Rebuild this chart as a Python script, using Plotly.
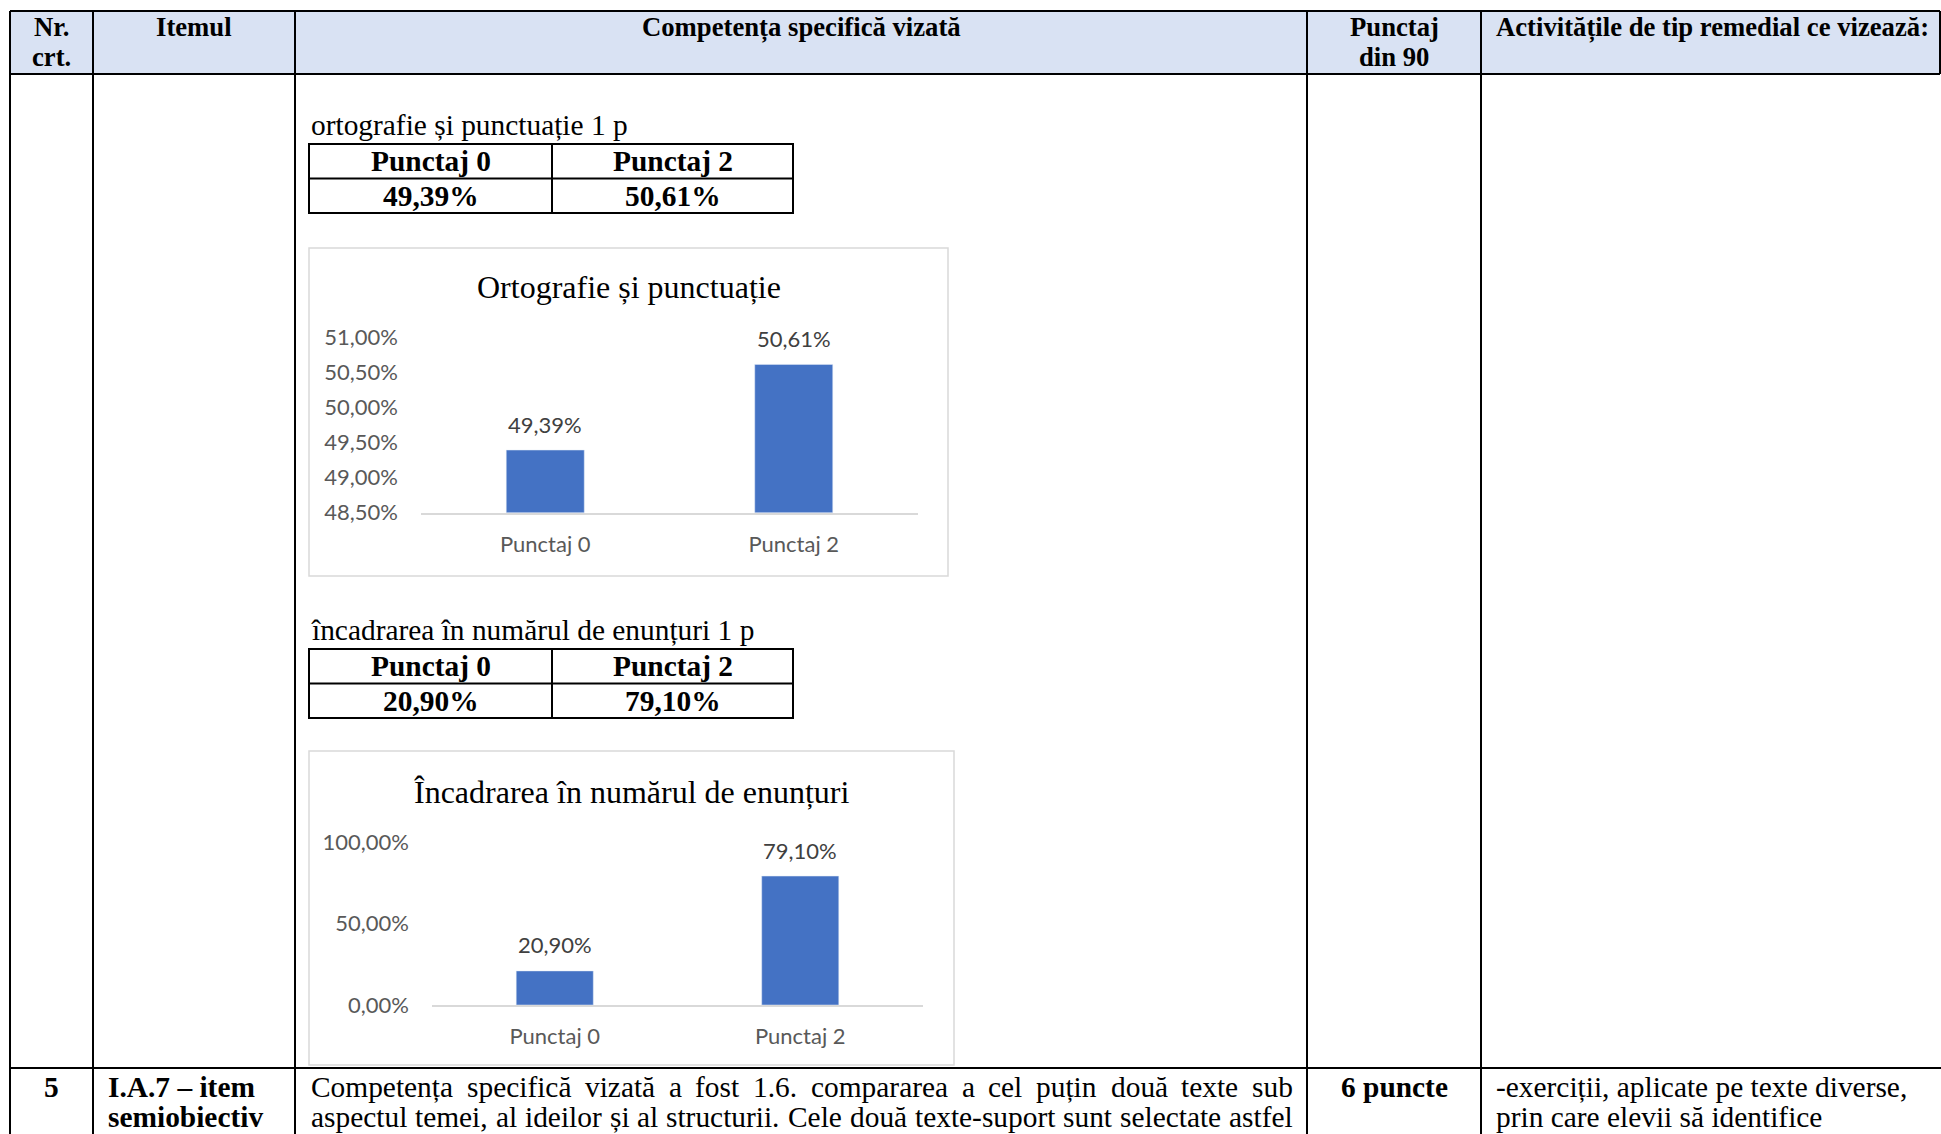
import plotly.graph_objects as go

# ==========================================================
# DATA
# ==========================================================
W, H = 1941, 1134

categories = ["Punctaj 0", "Punctaj 2"]
ortografie_vals = [49.39, 50.61]
incadrare_vals = [20.90, 79.10]

ortografie_ticks = [48.5, 49.0, 49.5, 50.0, 50.5, 51.0]
incadrare_ticks = [0, 50, 100]

header_cols = ["Nr.<br>crt.", "Itemul", "Competența specifică vizată", "Punctaj<br>din 90",
               "Activitățile de tip remedial ce vizează:"]

caption_1 = "ortografie și punctuație 1 p"
caption_2 = "încadrarea în numărul de enunțuri 1 p"
title_1 = "Ortografie și punctuație"
title_2 = "Încadrarea în numărul de enunțuri"

row5_nr = "5"
row5_item = ["I.A.7 – item", "semiobiectiv"]
row5_comp = ["Competența specifică vizată a fost 1.6. compararea a cel puțin două texte sub",
             "aspectul temei, al ideilor și al structurii. Cele două texte-suport sunt selectate astfel"]
row5_punctaj = "6 puncte"
row5_activ = ["-exerciții, aplicate pe texte diverse,", "prin care elevii să identifice"]

SERIF = "Liberation Serif"
SANS = "Lato"
BLUE = "#4472C4"
HEAD = 26.7
BODY = 29.4

# Times / Liberation Serif advance widths (per 1000 em), used to justify a line
TIMES_W = {" ": 250, "a": 444, "b": 500, "c": 444, "d": 500, "e": 444, "f": 333, "g": 500,
           "h": 500, "i": 278, "j": 278, "k": 500, "l": 278, "m": 778, "n": 500, "o": 500,
           "p": 500, "q": 500, "r": 333, "s": 389, "t": 278, "u": 500, "v": 500, "w": 722,
           "x": 500, "y": 500, "z": 444, "C": 667, ".": 250, ",": 250, "-": 333,
           "ă": 444, "ț": 278, "ș": 389, "î": 278, "â": 444}


def X(px):
    return px / W


def Y(py):
    return 1 - py / H


def pct(v):
    return f"{v:.2f}".replace(".", ",") + "%"


def word_w(word, size):
    return sum(TIMES_W.get(ch, 500) for ch in word) * size / 1000


fig = go.Figure()
shapes = []
ann = []


def line(x0, y0, x1, y1, color="black", width=2):
    shapes.append(dict(type="line", xref="paper", yref="paper",
                       x0=X(x0), y0=Y(y0), x1=X(x1), y1=Y(y1),
                       line=dict(color=color, width=width)))


def rect(x0, y0, x1, y1, color="black", width=2, fill=None):
    shapes.append(dict(type="rect", xref="paper", yref="paper",
                       x0=X(x0), y0=Y(y0), x1=X(x1), y1=Y(y1),
                       line=dict(color=color, width=width if color else 0),
                       fillcolor=fill, layer="below"))


def text(t, x, y, size=BODY, bold=False, anchor="center", font=SERIF, color="black"):
    if bold:
        t = f"<b>{t}</b>"
    ann.append(dict(text=t, x=X(x), y=Y(y), xref="paper", yref="paper",
                    xanchor=anchor, yanchor="middle", showarrow=False,
                    font=dict(family=font, size=size, color=color)))


def justified(t, x0, x1, y, size=BODY):
    words = t.split(" ")
    widths = [word_w(w, size) for w in words]
    gap = (x1 - x0 - sum(widths)) / (len(words) - 1)
    cx = x0
    for w, ww in zip(words, widths):
        text(w, cx, y, size, anchor="left")
        cx += ww + gap


# ==========================================================
# MAIN TABLE
# ==========================================================
col_x = [10, 93, 295, 1307, 1481]
rect(10, 11, 1940, 74, color=None, fill="#D9E2F3")
line(10, 11, 1940, 11)
line(10, 74, 1940, 74)
line(10, 1068, 1941, 1068)
for cx in col_x:
    line(cx, 11, cx, 1134)
line(1940, 11, 1940, 74)

# header
text("Nr.", 51.5, 27, HEAD, True)
text("crt.", 51.5, 57, HEAD, True)
text(header_cols[1], 194, 27, HEAD, True)
text(header_cols[2], 801, 27, HEAD, True)
text("Punctaj", 1394, 27, HEAD, True)
text("din 90", 1394, 57, HEAD, True)
text(header_cols[4], 1494, 27, HEAD, True, anchor="left")

# row 5 (second line sits on the bottom edge, as in the page)
text(row5_nr, 51.5, 1087, BODY, True)
text(row5_item[0], 106, 1087, BODY, True, anchor="left")
text(row5_item[1], 106, 1117, BODY, True, anchor="left")
justified(row5_comp[0], 309, 1291, 1087)
justified(row5_comp[1], 309, 1291, 1117)
text(row5_punctaj, 1394, 1087, BODY, True)
text(row5_activ[0], 1494, 1087, BODY, anchor="left")
text(row5_activ[1], 1494, 1117, BODY, anchor="left")


# ==========================================================
# SMALL TABLES
# ==========================================================
def small_table(top, caption, vals):
    text(caption, 309, top - 19, BODY, anchor="left")
    rect(309, top, 793, top + 69)
    line(309, top + 34.5, 793, top + 34.5)
    line(552, top, 552, top + 69)
    for i, cx in enumerate([430.5, 672.5]):
        text(categories[i], cx, top + 17, BODY, True)
        text(pct(vals[i]), cx, top + 52, BODY, True)


small_table(144, caption_1, ortografie_vals)
small_table(649, caption_2, incadrare_vals)

# ==========================================================
# CHARTS
# ==========================================================
rect(309, 248, 948, 576, color="#D9D9D9", width=1.5)
rect(309, 751, 954, 1065, color="#D9D9D9", width=1.5)
text(title_1, 629, 287, 32)
text(title_2, 631, 792, 32)

fig.add_trace(go.Bar(x=categories, y=ortografie_vals, marker_color=BLUE,
                     xaxis="x", yaxis="y", hoverinfo="skip"))
fig.add_trace(go.Bar(x=categories, y=incadrare_vals, marker_color=BLUE,
                     xaxis="x2", yaxis="y2", hoverinfo="skip"))

for xr, yr, vals in [("x", "y", ortografie_vals), ("x2", "y2", incadrare_vals)]:
    for c, v in zip(categories, vals):
        ann.append(dict(text=pct(v), x=c, y=v, xref=xr, yref=yr, yshift=26,
                        xanchor="center", yanchor="middle", showarrow=False,
                        font=dict(family=SANS, size=22, color="#404040")))

xax = dict(type="category", showline=True, linecolor="#D9D9D9", linewidth=1.5,
           showgrid=False, zeroline=False, ticks="", ticklabelstandoff=11,
           automargin=False,
           tickfont=dict(family=SANS, size=22, color="#595959"), fixedrange=True)
yax = dict(showgrid=False, zeroline=False, showline=False, ticks="",
           ticklabelstandoff=22, automargin=False,
           tickfont=dict(family=SANS, size=22, color="#595959"), fixedrange=True)

fig.update_layout(
    width=W, height=H,
    margin=dict(l=0, r=0, t=0, b=0, pad=0),
    paper_bgcolor="white", plot_bgcolor="rgba(0,0,0,0)",
    showlegend=False, separators=",.",
    bargap=0.686,
    xaxis=dict(xax, domain=[X(421), X(918)], anchor="y"),
    yaxis=dict(yax, domain=[Y(512.5), Y(337)], range=[48.5, 51.0],
               tickvals=ortografie_ticks, ticktext=[pct(v) for v in ortografie_ticks],
               anchor="x"),
    xaxis2=dict(xax, domain=[X(432), X(923)], anchor="y2"),
    yaxis2=dict(yax, domain=[Y(1005), Y(842)], range=[0, 100],
                tickvals=incadrare_ticks, ticktext=[pct(v) for v in incadrare_ticks],
                anchor="x2"),
    shapes=shapes,
    annotations=ann,
)

fig.write_html("out.html", config={"displayModeBar": False},
               post_script="document.body.style.margin='0';document.body.style.overflow='hidden';")
